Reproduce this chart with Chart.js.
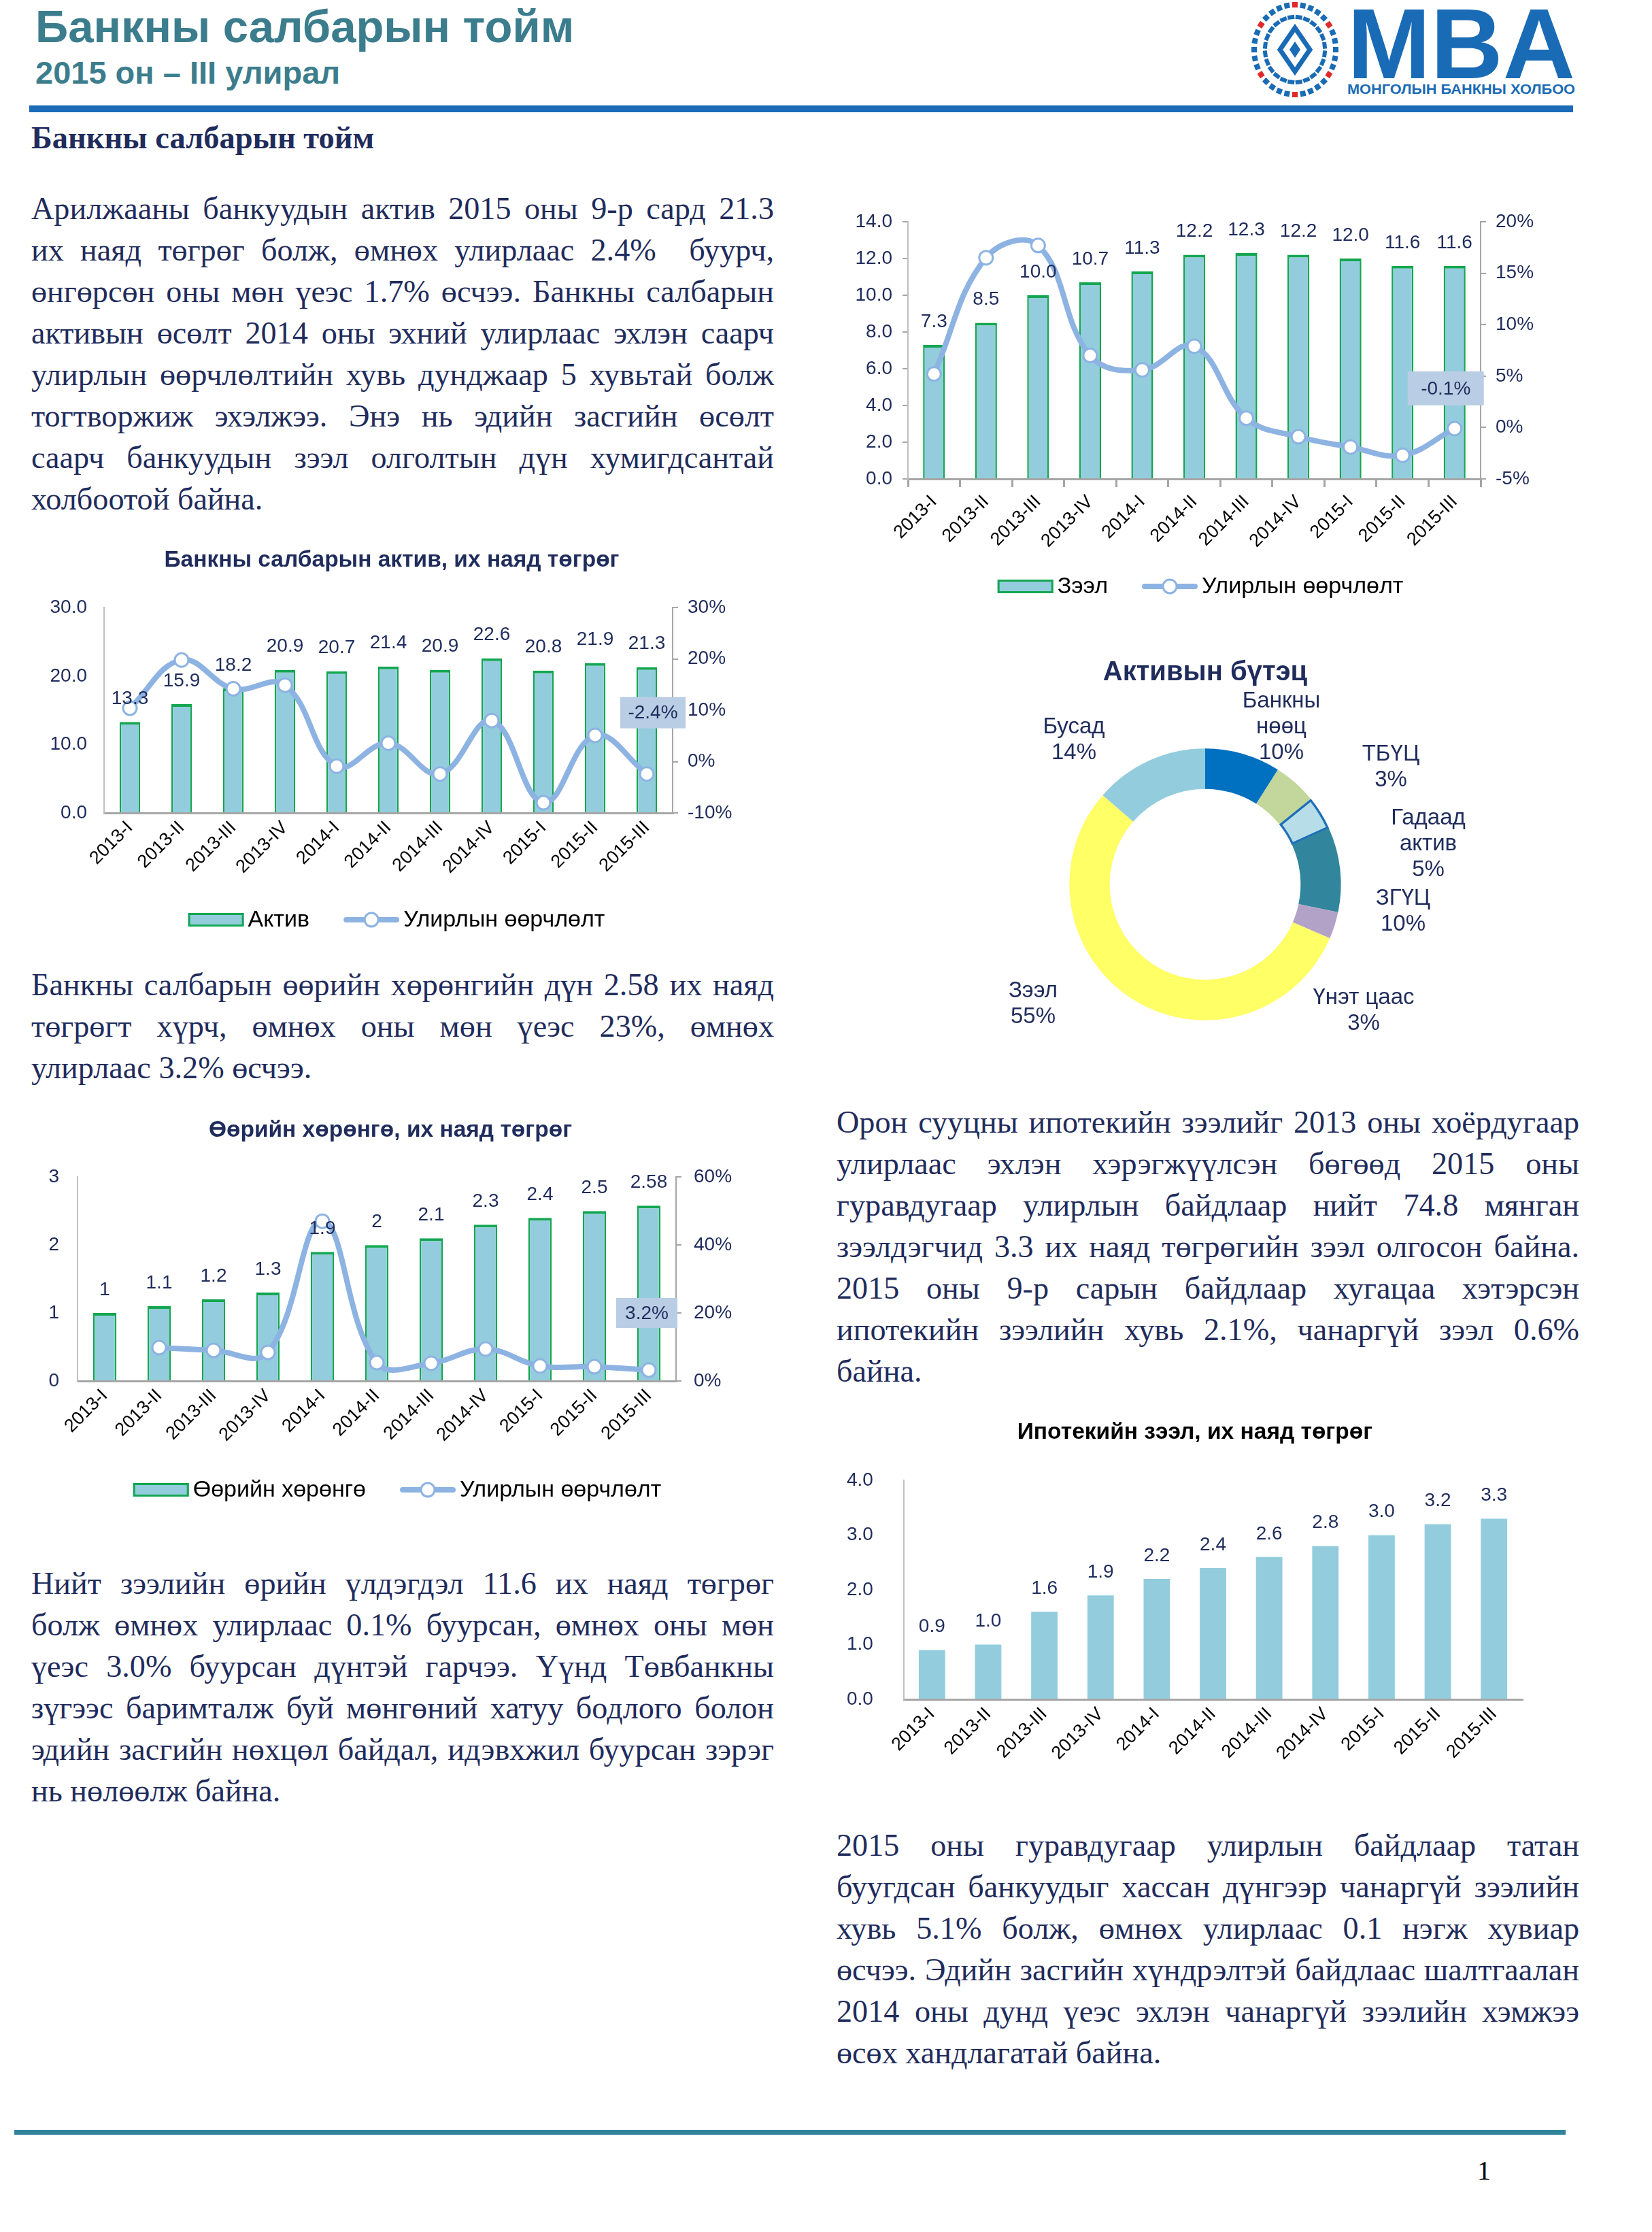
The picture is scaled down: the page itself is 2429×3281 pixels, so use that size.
<!DOCTYPE html>
<html lang="mn">
<head>
<meta charset="utf-8">
<title>Банкны салбарын тойм</title>
<script src="https://cdn.jsdelivr.net/npm/chart.js@4.4.1/dist/chart.umd.min.js"></script>
<style>
html,body{margin:0;padding:0;background:#fff;}
body{width:2429px;height:3281px;position:relative;overflow:hidden;}
.abs{position:absolute;}
.hd{font-family:"Liberation Sans",Arial,sans-serif;font-weight:bold;color:#3b7d8d;white-space:nowrap;}
.para{position:absolute;width:1092px;font-family:"Liberation Serif","Times New Roman",serif;font-size:46.2px;line-height:61px;color:#1f2c5c;}
.para div{height:61px;white-space:nowrap;}
.para span{white-space:pre;display:inline-block;}
canvas{position:absolute;}
</style>
</head>
<body>

<div class="abs hd" style="left:52px;top:5px;font-size:67px;line-height:67px;">Банкны салбарын тойм</div>
<div class="abs hd" style="left:52px;top:83px;font-size:47px;line-height:47px;">2015 он – III улирал</div>

<svg class="abs" style="left:1820px;top:0px" width="520" height="150" viewBox="1820 0 520 150">
  <g id="emblem"></g>
  <text x="1981" y="115" font-family="Liberation Sans, Arial, sans-serif" font-weight="bold" font-size="147" fill="#1a6bb5" textLength="335" lengthAdjust="spacingAndGlyphs">MBA</text>
  <text x="1981" y="138" font-family="Liberation Sans, Arial, sans-serif" font-weight="bold" font-size="20" fill="#1a6bb5" textLength="335" lengthAdjust="spacingAndGlyphs">МОНГОЛЫН БАНКНЫ ХОЛБОО</text>
</svg>

<div class="abs" style="left:43px;top:155px;width:2270px;height:10px;background:#1b6bb8;"></div>

<div class="abs" style="left:46px;top:180px;font-family:'Liberation Serif','Times New Roman',serif;font-weight:bold;font-size:46.5px;line-height:46.5px;color:#1f2c5c;white-space:nowrap;">Банкны салбарын тойм</div>

<div class="para" id="p1" style="left:46px;top:276px;"></div>
<div class="para" id="p2" style="left:46px;top:1417px;"></div>
<div class="para" id="p3" style="left:46px;top:2297px;"></div>
<div class="para" id="p4" style="left:1230px;top:1619px;"></div>
<div class="para" id="p5" style="left:1230px;top:2682px;"></div>

<canvas id="cA" width="1152" height="590" style="left:0px;top:790px;width:1152px;height:590px;"></canvas>
<canvas id="cB" width="1057" height="600" style="left:1220px;top:290px;width:1057px;height:600px;"></canvas>
<canvas id="cC" width="1148" height="588" style="left:0px;top:1630px;width:1148px;height:588px;"></canvas>
<canvas id="cD" width="1058" height="573" style="left:1200px;top:2060px;width:1058px;height:573px;"></canvas>
<canvas id="cE" width="784" height="590" style="left:1380px;top:940px;width:784px;height:590px;"></canvas>

<div class="abs" style="left:21px;top:3131px;width:2281px;height:7px;background:#31849b;"></div>
<div class="abs" style="left:2172px;top:3171px;font-family:'Liberation Serif','Times New Roman',serif;font-size:40px;line-height:40px;color:#000;">1</div>

<script>
// ---------------- DATA ----------------
const categories = ['2013-I','2013-II','2013-III','2013-IV','2014-I','2014-II','2014-III','2014-IV','2015-I','2015-II','2015-III'];

const assetValues  = [13.3, 15.9, 18.2, 20.9, 20.7, 21.4, 20.9, 22.6, 20.8, 21.9, 21.3];
const assetChange  = [10.4, 19.8, 14.2, 14.9, -0.9, 3.6, -2.4, 8.0, -8.0, 5.1, -2.4];

const loanValues   = [7.3, 8.5, 10.0, 10.7, 11.3, 12.2, 12.3, 12.2, 12.0, 11.6, 11.6];
const loanChange   = [5.2, 16.5, 17.7, 7.0, 5.6, 7.9, 0.9, -0.9, -1.9, -2.7, -0.1];

const equityValues = [1, 1.1, 1.2, 1.3, 1.9, 2, 2.1, 2.3, 2.4, 2.5, 2.58];
const equityChange = [null, 9.8, 9.0, 8.4, 47.0, 5.4, 5.2, 9.4, 4.4, 4.2, 3.2];

const mortgageValues = [0.9, 1.0, 1.6, 1.9, 2.2, 2.4, 2.6, 2.8, 3.0, 3.2, 3.3];

const structureLabels = [['Банкны','нөөц'], ['ТБҮЦ'], ['Гадаад','актив'], ['ЗГҮЦ'], ['Үнэт цаас'], ['Зээл'], ['Бусад']];
const structureValues = [9.0, 5.2, 4.0, 10.1, 3.2, 54.9, 13.6];
const structurePctText = ['10%', '3%', '5%', '10%', '3%', '55%', '14%'];

const para1 = ['Арилжааны банкуудын актив 2015 оны 9-р сард 21.3',
  'их наяд төгрөг болж, өмнөх улирлаас 2.4%  буурч,',
  'өнгөрсөн оны мөн үеэс 1.7% өсчээ. Банкны салбарын',
  'активын өсөлт 2014 оны эхний улирлаас эхлэн саарч',
  'улирлын өөрчлөлтийн хувь дунджаар 5 хувьтай болж',
  'тогтворжиж эхэлжээ. Энэ нь эдийн засгийн өсөлт',
  'саарч банкуудын зээл олголтын дүн хумигдсантай',
  'холбоотой байна.'];
const para2 = ['Банкны салбарын өөрийн хөрөнгийн дүн 2.58 их наяд',
  'төгрөгт хүрч, өмнөх оны мөн үеэс 23%, өмнөх',
  'улирлаас 3.2% өсчээ.'];
const para3 = ['Нийт зээлийн өрийн үлдэгдэл 11.6 их наяд төгрөг',
  'болж өмнөх улирлаас 0.1% буурсан, өмнөх оны мөн',
  'үеэс 3.0% буурсан дүнтэй гарчээ. Үүнд Төвбанкны',
  'зүгээс баримталж буй мөнгөний хатуу бодлого болон',
  'эдийн засгийн нөхцөл байдал, идэвхжил буурсан зэрэг',
  'нь нөлөөлж байна.'];
const para4 = ['Орон сууцны ипотекийн зээлийг 2013 оны хоёрдугаар',
  'улирлаас эхлэн хэрэгжүүлсэн бөгөөд 2015 оны',
  'гуравдугаар улирлын байдлаар нийт 74.8 мянган',
  'зээлдэгчид 3.3 их наяд төгрөгийн зээл олгосон байна.',
  '2015 оны 9-р сарын байдлаар хугацаа хэтэрсэн',
  'ипотекийн зээлийн хувь 2.1%, чанаргүй зээл 0.6%',
  'байна.'];
const para5 = ['2015 оны гуравдугаар улирлын байдлаар татан',
  'буугдсан банкуудыг хассан дүнгээр чанаргүй зээлийн',
  'хувь 5.1% болж, өмнөх улирлаас 0.1 нэгж хувиар',
  'өсчээ. Эдийн засгийн хүндрэлтэй байдлаас шалтгаалан',
  '2014 оны дунд үеэс эхлэн чанаргүй зээлийн хэмжээ',
  'өсөх хандлагатай байна.'];

// ---------------- TEXT ----------------
function fillPara(id, lines) {
  const p = document.getElementById(id);
  lines.forEach((t, i) => {
    const d = document.createElement('div');
    const s = document.createElement('span');
    s.textContent = t;
    if (i === lines.length - 1) s.className = 'last';
    d.appendChild(s);
    p.appendChild(d);
  });
}
fillPara('p1', para1); fillPara('p2', para2); fillPara('p3', para3); fillPara('p4', para4); fillPara('p5', para5);
function justifyAll() {
  document.querySelectorAll('.para span').forEach(s => {
    if (s.classList.contains('last')) return;
    s.style.wordSpacing = '0px';
    const nat = s.getBoundingClientRect().width;
    const n = (s.textContent.match(/ /g) || []).length;
    if (n) s.style.wordSpacing = ((1092 - nat) / n) + 'px';
  });
}
justifyAll();

// ---------------- LOGO EMBLEM ----------------
(function () {
  const ns = 'http://www.w3.org/2000/svg';
  const g = document.getElementById('emblem');
  const cx = 1904, cy = 73;
  const red = [0, 5, 11, 16, 21, 27];
  for (let i = 0; i < 32; i++) {
    const a = i / 32 * Math.PI * 2;
    const x = cx + 60 * Math.sin(a), y = cy - 66 * Math.cos(a);
    const r = document.createElementNS(ns, 'rect');
    r.setAttribute('x', x - 4); r.setAttribute('y', y - 4);
    r.setAttribute('width', 8); r.setAttribute('height', 8);
    r.setAttribute('transform', `rotate(${a * 180 / Math.PI} ${x} ${y})`);
    r.setAttribute('fill', red.includes(i) ? '#e02a2a' : '#1a6bb5');
    g.appendChild(r);
  }
  for (let i = 0; i < 24; i++) {
    const a = (i + 0.5) / 24 * Math.PI * 2;
    const x = cx + 44 * Math.sin(a), y = cy - 48 * Math.cos(a);
    const r = document.createElementNS(ns, 'rect');
    r.setAttribute('x', x - 5); r.setAttribute('y', y - 3);
    r.setAttribute('width', 10); r.setAttribute('height', 6);
    r.setAttribute('transform', `rotate(${a * 180 / Math.PI} ${x} ${y})`);
    r.setAttribute('fill', '#1a6bb5');
    g.appendChild(r);
  }
  const d1 = document.createElementNS(ns, 'polygon');
  d1.setAttribute('points', `${cx},${cy - 32} ${cx + 22},${cy} ${cx},${cy + 32} ${cx - 22},${cy}`);
  d1.setAttribute('fill', '#fff'); d1.setAttribute('stroke', '#1a6bb5'); d1.setAttribute('stroke-width', 7);
  g.appendChild(d1);
  const d2 = document.createElementNS(ns, 'polygon');
  d2.setAttribute('points', `${cx},${cy - 12} ${cx + 8},${cy} ${cx},${cy + 12} ${cx - 8},${cy}`);
  d2.setAttribute('fill', '#1a6bb5');
  g.appendChild(d2);
})();

// ---------------- CHARTS ----------------
const NAVY = '#1f2c5c';
const LINE = '#8db3e2';
const BAR = '#93cddd';
const GREEN = '#14a651';
const FONT = '"Liberation Sans", Arial, sans-serif';

Chart.defaults.font.family = FONT;
Chart.defaults.color = NAVY;
Chart.defaults.animation = false;
Chart.defaults.events = [];
Chart.defaults.plugins.legend.display = false;
Chart.defaults.plugins.tooltip.enabled = false;

const barLabels = {
  id: 'barLabels',
  afterDatasetsDraw(chart, args, o) {
    if (!o || !o.enabled) return;
    const ctx = chart.ctx;
    const meta = chart.getDatasetMeta(0);
    const data = chart.data.datasets[0].data;
    ctx.save();
    ctx.font = `28px ${FONT}`;
    ctx.fillStyle = NAVY;
    ctx.textAlign = 'center';
    ctx.textBaseline = 'middle';
    meta.data.forEach((bar, i) => ctx.fillText(o.format(data[i]), bar.x, bar.y - o.offset));
    ctx.restore();
  }
};

const callout = {
  id: 'callout',
  afterDatasetsDraw(chart, args, o) {
    if (!o || !o.enabled) return;
    const ctx = chart.ctx;
    const meta = chart.getDatasetMeta(1);
    const data = chart.data.datasets[1].data;
    const i = data.length - 1;
    const pt = meta.data[i];
    const cx = pt.x + o.dx, cy = pt.y + o.dy;
    ctx.save();
    ctx.fillStyle = '#b9cde5';
    ctx.fillRect(cx - o.w / 2, cy - o.h / 2, o.w, o.h);
    ctx.font = `28px ${FONT}`;
    ctx.fillStyle = NAVY;
    ctx.textAlign = 'center';
    ctx.textBaseline = 'middle';
    ctx.fillText(data[i].toFixed(1) + '%', cx, cy + 1);
    ctx.restore();
  }
};

const customLegend = {
  id: 'customLegend',
  afterDraw(chart, args, o) {
    if (!o || !o.enabled) return;
    const ctx = chart.ctx, ca = chart.chartArea;
    const items = chart.data.datasets.map(ds => ({ ds, type: ds.type || 'bar', label: ds.label }));
    ctx.save();
    ctx.font = `34px ${FONT}`;
    const symW = 82, g1 = 6, g2 = 50;
    let total = 0;
    items.forEach((it, k) => { it.tw = ctx.measureText(it.label).width; total += symW + g1 + it.tw + (k ? g2 : 0); });
    let x = (ca.left + ca.right) / 2 + o.dx - total / 2;
    const y = ca.bottom + o.dy;
    items.forEach((it, k) => {
      if (k) x += g2;
      if (it.type === 'bar') {
        ctx.fillStyle = it.ds.backgroundColor;
        ctx.fillRect(x, y - 10, symW, 20);
        ctx.strokeStyle = GREEN; ctx.lineWidth = 3;
        ctx.strokeRect(x + 1.5, y - 8.5, symW - 3, 17);
      } else {
        ctx.strokeStyle = it.ds.borderColor; ctx.lineWidth = 8; ctx.lineCap = 'round';
        ctx.beginPath(); ctx.moveTo(x + 4, y); ctx.lineTo(x + symW - 4, y); ctx.stroke();
        ctx.beginPath(); ctx.arc(x + symW / 2, y, 10, 0, Math.PI * 2);
        ctx.fillStyle = '#fff'; ctx.fill(); ctx.lineWidth = 3; ctx.stroke();
      }
      x += symW + g1;
      ctx.fillStyle = '#000'; ctx.textAlign = 'left'; ctx.textBaseline = 'middle';
      ctx.fillText(it.label, x, y + 1);
      x += it.tw;
    });
    ctx.restore();
  }
};

const arcLabels = {
  id: 'arcLabels',
  afterDraw(chart, args, o) {
    if (!o || !o.enabled) return;
    const ctx = chart.ctx;
    const arc = chart.getDatasetMeta(0).data[0];
    ctx.save();
    ctx.font = `33px ${FONT}`;
    ctx.fillStyle = NAVY;
    ctx.textAlign = 'center';
    ctx.textBaseline = 'middle';
    chart.data.labels.forEach((lab, i) => {
      const lines = lab.concat([o.pct[i]]);
      const p = o.place[i];
      const cx = arc.x + p[0], cy = arc.y + p[1];
      lines.forEach((t, k) => ctx.fillText(t, cx, cy + (k - (lines.length - 1) / 2) * 38));
    });
    ctx.restore();
  }
};

Chart.register(barLabels, callout, customLegend, arcLabels);

function combo(o) {
  const datasets = [{
    type: 'bar', label: o.barName, data: o.bars, yAxisID: 'y',
    backgroundColor: BAR,
    borderColor: o.noBorder ? 'rgba(0,0,0,0)' : GREEN,
    borderWidth: o.noBorder ? 0 : { top: 4, left: 2.5, right: 2.5, bottom: 0 },
    borderSkipped: 'start',
    barPercentage: o.barPct, categoryPercentage: 1, order: 2
  }];
  if (o.line) datasets.push({
    type: 'line', label: 'Улирлын өөрчлөлт', data: o.line, yAxisID: 'y1',
    borderColor: LINE, borderWidth: 8, tension: 0.4,
    borderCapStyle: 'round', borderJoinStyle: 'round',
    pointRadius: 10, pointBackgroundColor: '#fff', pointBorderColor: LINE, pointBorderWidth: 3,
    order: 1, clip: false
  });
  const scales = {
    x: {
      type: 'category', offset: true,
      grid: { display: true, offset: true, drawOnChartArea: false, drawTicks: !!o.xTicks, tickLength: 12, color: '#a6a6a6', lineWidth: 3 },
      border: { display: true, color: '#a6a6a6', width: 3 },
      ticks: { color: '#000', font: { size: 27 }, minRotation: 45, maxRotation: 45, autoSkip: false, padding: 6 },
      afterFit: s => { s.height = 125; }
    },
    y: {
      position: 'left', min: o.yMin, max: o.yMax,
      ticks: { stepSize: o.yStep, color: NAVY, font: { size: 28 }, padding: o.yPad, mirror: !!o.yMirror, callback: o.yFmt },
      grid: { display: true, drawOnChartArea: false, drawTicks: !!o.yTicks, tickLength: 8, color: '#a6a6a6', lineWidth: 2 },
      border: { display: true, color: '#bfbfbf', width: 2 },
      afterFit: s => { s.width = o.yW; }
    }
  };
  if (o.line) scales.y1 = {
    position: 'right', min: o.y1Min, max: o.y1Max,
    ticks: { stepSize: o.y1Step, color: NAVY, font: { size: 28 }, padding: o.y1Pad, callback: v => v + '%' },
    grid: { display: true, drawOnChartArea: false, drawTicks: true, tickLength: 8, color: '#a6a6a6', lineWidth: 2 },
    border: { display: true, color: '#a6a6a6', width: 2 },
    afterFit: s => { s.width = o.y1W; }
  };
  return new Chart(document.getElementById(o.id), {
    type: 'bar',
    data: { labels: categories, datasets },
    options: {
      responsive: false, devicePixelRatio: 1, animation: false,
      layout: { padding: o.padding },
      scales,
      plugins: {
        title: o.title ? { display: true, text: o.title, color: o.titleColor || NAVY, font: { size: 33.5, weight: 'bold' }, padding: o.titlePad } : { display: false },
        barLabels: { enabled: true, offset: 34, format: o.labelFmt },
        callout: o.callout ? Object.assign({ enabled: true }, o.callout) : { enabled: false },
        customLegend: o.legend ? Object.assign({ enabled: true }, o.legend) : { enabled: false }
      }
    }
  });
}

function start() {
  justifyAll();

  combo({
    id: 'cA', barName: 'Актив', bars: assetValues, line: assetChange, barPct: 0.4,
    yMin: 0, yMax: 30, yStep: 10, yFmt: v => v.toFixed(1), yPad: 25, yW: 153,
    y1Min: -10, y1Max: 30, y1Step: 10, y1Pad: 14, y1W: 163,
    padding: { top: 0, bottom: 60, left: 0, right: 0 },
    title: 'Банкны салбарын актив, их наяд төгрөг', titlePad: { top: 14, bottom: 49 },
    labelFmt: v => v.toFixed(1),
    callout: { dx: 9, dy: -90, w: 96, h: 46 },
    legend: { dx: 12, dy: 157 }
  });

  combo({
    id: 'cB', barName: 'Зээл', bars: loanValues, line: loanChange, barPct: 0.42,
    yMin: 0, yMax: 14, yStep: 2, yFmt: v => v.toFixed(1), yPad: 15, yW: 115, yTicks: true, xTicks: true,
    y1Min: -5, y1Max: 20, y1Step: 5, y1Pad: 14, y1W: 100,
    padding: { top: 36, bottom: 61, left: 0, right: 0 },
    labelFmt: v => v.toFixed(1),
    callout: { dx: -13, dy: -59, w: 112, h: 50 },
    legend: { dx: 9, dy: 158 }
  });

  combo({
    id: 'cC', barName: 'Өөрийн хөрөнгө', bars: equityValues, line: equityChange, barPct: 0.43,
    yMin: 0, yMax: 3, yStep: 1, yFmt: v => String(v), yPad: 27, yW: 114,
    y1Min: 0, y1Max: 60, y1Step: 20, y1Pad: 18, y1W: 154,
    padding: { top: 0, bottom: 63, left: 0, right: 0 },
    title: 'Өөрийн хөрөнгө, их наяд төгрөг', titlePad: { top: 12, bottom: 48 },
    labelFmt: v => String(v),
    callout: { dx: -3, dy: -84, w: 90, h: 44 },
    legend: { dx: 30, dy: 160 }
  });

  // mirrored (unclipped) ticks so the title can stay centred where the reference has it
  combo({
    id: 'cD', barName: 'Ипотекийн зээл', bars: mortgageValues, barPct: 0.47, noBorder: true,
    yMin: 0, yMax: 4, yStep: 1, yFmt: v => v.toFixed(1), yPad: -84, yMirror: true, yW: 53,
    padding: { top: 0, bottom: 10, left: 76, right: 20 },
    title: 'Ипотекийн зээл, их наяд төгрөг', titleColor: '#000', titlePad: { top: 26, bottom: 50 },
    labelFmt: v => v.toFixed(1)
  });

  new Chart(document.getElementById('cE'), {
    type: 'doughnut',
    data: {
      labels: structureLabels,
      datasets: [{
        data: structureValues,
        backgroundColor: ['#0070c0', '#c3d69b', '#b7dee8', '#31859c', '#b3a2c7', '#ffff66', '#93cddd'],
        borderWidth: [0, 0, 3, 0, 0, 0, 0],
        borderColor: '#1f6fb8',
        borderAlign: 'inner'
      }]
    },
    options: {
      responsive: false, devicePixelRatio: 1, animation: false,
      cutout: '70%',
      layout: { padding: { top: 0, bottom: 30, left: 0, right: 0 } },
      plugins: {
        title: { display: true, text: 'Активын бүтэц', color: NAVY, font: { size: 40, weight: 'bold' }, padding: { top: 25, bottom: 87 } },
        arcLabels: {
          enabled: true, pct: structurePctText,
          place: [[112, -231], [273, -172], [328, -59], [291, 40], [233, 186], [-253, 176], [-193, -212]]
        }
      }
    }
  });
}

if (document.fonts && document.fonts.ready) { document.fonts.ready.then(start); } else { start(); }
</script>
</body>
</html>
